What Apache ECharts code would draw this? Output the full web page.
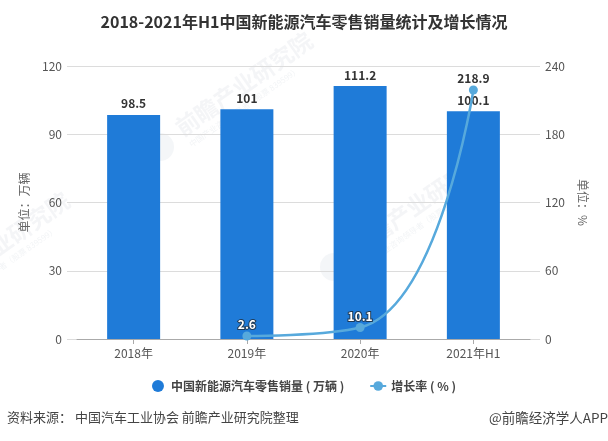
<!DOCTYPE html>
<html><head><meta charset="utf-8">
<style>html,body{margin:0;padding:0;background:#fff}#c{width:608px;height:441px}</style>
<script src="https://cdn.jsdelivr.net/npm/echarts@6/dist/echarts.min.js"></script>
</head><body><div id="c"></div>
<script>
const categories = ['2018年','2019年','2020年','2021年H1'];
const salesName = '中国新能源汽车零售销量 ( 万辆 )';
const growthName = '增长率 ( % )';
const sales = [98.5, 101, 111.2, 100.1];
const growth = [null, 2.6, 10.1, 218.9];
const titleText = '2018-2021年H1中国新能源汽车零售销量统计及增长情况';
const sourceText = '资料来源： 中国汽车工业协会 前瞻产业研究院整理';
const creditText = '@前瞻经济学人APP';
const FONT = '"Noto Sans CJK SC","Noto Sans",sans-serif';

function watermark(x, y) {
  const r = 35*Math.PI/180;
  return [
    {type:'circle', z:0, shape:{cx:x-18, cy:y+17, r:14}, style:{fill:'rgba(200,208,220,0.2)'}, silent:true},
    {type:'text', z:0, x:x, y:y, rotation:r, silent:true,
     style:{text:'前瞻产业研究院', font:'bold 23px '+FONT, fill:'rgba(190,198,210,0.17)', textVerticalAlign:'middle'}},
    {type:'text', z:0, x:x+12, y:y+15, rotation:r, silent:true,
     style:{text:'中国产业咨询领导者（股票 839599）', font:'8px '+FONT, fill:'rgba(190,198,210,0.2)', textVerticalAlign:'middle'}}
  ];
}

const chart = echarts.init(document.getElementById('c'), null, {renderer:'canvas'});
chart.setOption({
  animation:false,
  backgroundColor:'#fff',
  textStyle:{fontFamily:FONT},
  title:{text:titleText, left:'center', top:9, textStyle:{fontSize:16, fontWeight:'bold', color:'#333', fontFamily:FONT}},
  legend:{
    bottom:44, left:'center', itemGap:25, itemWidth:16, itemHeight:12,
    textStyle:{fontSize:12, fontWeight:'bold', color:'#444', fontFamily:FONT},
    data:[{name:salesName, icon:'circle'},{name:growthName}]
  },
  grid:[
    {left:77, right:78, top:66, height:273},
    {left:67, right:68, top:66, height:273}
  ],
  xAxis:[
    {type:'category', data:categories, gridIndex:0,
     axisLine:{lineStyle:{color:'#aaa', width:1}},
     axisTick:{show:true, alignWithLabel:true, lineStyle:{color:'#aaa'}},
     axisLabel:{color:'#555', fontSize:12, margin:8}},
    {type:'category', data:categories, gridIndex:1, show:false}
  ],
  yAxis:[
    {type:'value', gridIndex:0, min:0, max:120, interval:30, position:'left',
     name:'单位：万辆', nameLocation:'middle', nameRotate:90, nameGap:47,
     nameTextStyle:{color:'#666', fontSize:12},
     axisLine:{show:false}, axisTick:{show:false}, splitLine:{show:false},
     axisLabel:{color:'#555', fontSize:12, margin:15}},
    {type:'value', gridIndex:0, min:0, max:240, interval:60, position:'right',
     name:'单位：%', nameLocation:'middle', nameRotate:-90, nameGap:47,
     nameTextStyle:{color:'#666', fontSize:12},
     axisLine:{show:false}, axisTick:{show:false}, splitLine:{show:false},
     axisLabel:{color:'#555', fontSize:12, margin:15}},
    {type:'value', gridIndex:1, min:0, max:120, interval:30,
     axisLine:{show:false}, axisTick:{show:false}, axisLabel:{show:false},
     splitLine:{show:true, lineStyle:{color:'#dcdcdc', width:1}}}
  ],
  graphic:{elements:[
    ...watermark(178,130), ...watermark(-65,290), ...watermark(352,250),
    {type:'text', left:7, top:411, style:{text:sourceText, font:'13px '+FONT, fill:'#444'}},
    {type:'text', right:0, top:411, style:{text:creditText, font:'13.5px '+FONT, fill:'#444'}}
  ]},
  series:[
    {name:salesName, type:'bar', xAxisIndex:0, yAxisIndex:0, data:sales, barWidth:53, z:2,
     itemStyle:{color:'#1f7bd8'},
     label:{show:true, position:'top', distance:5, color:'#333', fontSize:12, fontWeight:'bold'}},
    {name:growthName, type:'line', xAxisIndex:0, yAxisIndex:1, data:growth, smooth:0.5,
     symbol:'circle', symbolSize:9, z:3, connectNulls:false,
     lineStyle:{color:'#57a9dc', width:2.5},
     itemStyle:{color:'#57a9dc'},
     label:{show:true, position:'top', distance:1, color:'#fff', fontSize:12, fontWeight:'bold',
            textBorderColor:'#1f3a55', textBorderWidth:2}}
  ]
});
chart.setOption({series:[{},{data:growth.map((v,i)=> i===3 ? {value:v, label:{color:'#333', textBorderWidth:0}} : v)}]});
</script></body></html>
